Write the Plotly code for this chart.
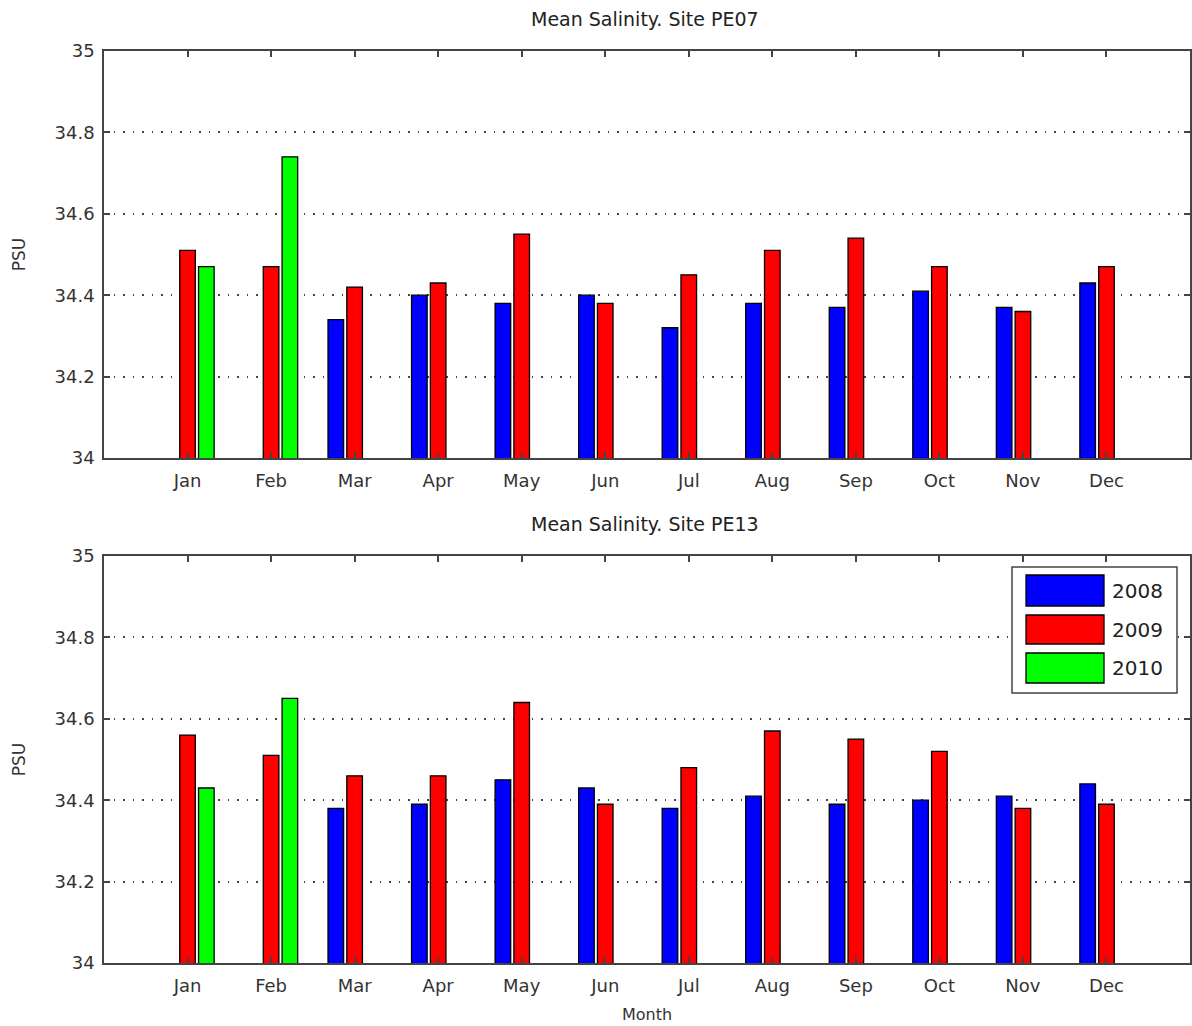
import plotly.graph_objects as go
from plotly.subplots import make_subplots

# Monthly mean salinity (PSU) at two sites, by year
months = ["Jan", "Feb", "Mar", "Apr", "May", "Jun", "Jul", "Aug", "Sep", "Oct", "Nov", "Dec"]
years = ["2008", "2009", "2010"]

pe07_2008 = [None, None, 34.34, 34.40, 34.38, 34.40, 34.32, 34.38, 34.37, 34.41, 34.37, 34.43]
pe07_2009 = [34.51, 34.47, 34.42, 34.43, 34.55, 34.38, 34.45, 34.51, 34.54, 34.47, 34.36, 34.47]
pe07_2010 = [34.47, 34.74, None, None, None, None, None, None, None, None, None, None]

pe13_2008 = [None, None, 34.38, 34.39, 34.45, 34.43, 34.38, 34.41, 34.39, 34.40, 34.41, 34.44]
pe13_2009 = [34.56, 34.51, 34.46, 34.46, 34.64, 34.39, 34.48, 34.57, 34.55, 34.52, 34.38, 34.39]
pe13_2010 = [34.43, 34.65, None, None, None, None, None, None, None, None, None, None]

titles = ["Mean Salinity. Site PE07", "Mean Salinity. Site PE13"]
colors = ["#0000ff", "#ff0000", "#00ff00"]
y_ticks = [34, 34.2, 34.4, 34.6, 34.8, 35]
y_ticktext = ["34", "34.2", "34.4", "34.6", "34.8", "35"]

FONT = "DejaVu Sans"
W, H = 1192, 1026
ML, MR = 104, 2


def px_x(px):
    return (px - ML) / (W - ML - MR)


def px_y(py):
    return 1 - py / H


fig = make_subplots(rows=2, cols=1)

panels = [
    (1, [pe07_2008, pe07_2009, pe07_2010]),
    (2, [pe13_2008, pe13_2009, pe13_2010]),
]
for row, series in panels:
    for name, vals, col in zip(years, series, colors):
        fig.add_trace(
            go.Bar(
                x=months, y=vals, name=name,
                marker=dict(color=col, line=dict(color="black", width=1.3)),
                showlegend=False,
            ),
            row=row, col=1,
        )

axis_common = dict(
    showline=True, linecolor="#444", linewidth=1.5, mirror="ticks",
    ticks="inside", ticklen=6, tickcolor="#444", tickwidth=1.5,
    zeroline=False, automargin=False,
)
for row, (y0, y1) in [(1, (51, 458)), (2, (556, 963))]:
    fig.update_xaxes(
        axis_common, row=row, col=1, domain=[0, 1],
        type="category", range=[-1, 12], showgrid=False,
        tickfont=dict(family=FONT, size=18, color="#333"),
        ticklabelstandoff=6,
    )
    fig.update_yaxes(
        axis_common, row=row, col=1, domain=[px_y(y1), px_y(y0)],
        range=[34, 35], tickvals=y_ticks, ticktext=y_ticktext,
        showgrid=True, gridcolor="#444", gridwidth=1.5, griddash="1.5px,8px",
        tickfont=dict(family=FONT, size=18, color="#333"),
        ticklabelstandoff=4,
        title=dict(text="PSU", font=dict(family=FONT, size=17, color="#333"), standoff=25),
    )

fig.update_xaxes(
    row=2, col=1,
    title=dict(text="Month", font=dict(family=FONT, size=16, color="#333"), standoff=13),
)

# Panel titles
for t, ty in zip(titles, [19, 524]):
    fig.add_annotation(
        text=t, x=px_x(645), y=px_y(ty), xref="paper", yref="paper",
        xanchor="center", yanchor="middle", showarrow=False,
        font=dict(family=FONT, size=19, color="#222"),
    )

# Legend box in the lower panel
fig.add_shape(
    type="rect", xref="paper", yref="paper",
    x0=px_x(1012), x1=px_x(1177), y0=px_y(693), y1=px_y(567),
    line=dict(color="#444", width=1.5), fillcolor="white", layer="above",
)
rows_px = [(575, 606), (615, 644), (653, 683)]
for name, col, (ry0, ry1) in zip(years, colors, rows_px):
    fig.add_shape(
        type="rect", xref="paper", yref="paper",
        x0=px_x(1026), x1=px_x(1104), y0=px_y(ry1), y1=px_y(ry0),
        line=dict(color="black", width=1.3), fillcolor=col, layer="above",
    )
    fig.add_annotation(
        text=name, x=px_x(1110), y=px_y((ry0 + ry1) / 2), xref="paper", yref="paper",
        xanchor="left", yanchor="middle", showarrow=False,
        font=dict(family=FONT, size=20, color="#222"),
    )

fig.update_layout(
    width=W, height=H,
    margin=dict(l=ML, r=MR, t=0, b=0),
    paper_bgcolor="white", plot_bgcolor="white",
    barmode="group", bargap=0.325, bargroupgap=0.17,
    showlegend=False,
)

fig.write_html("out.html")
